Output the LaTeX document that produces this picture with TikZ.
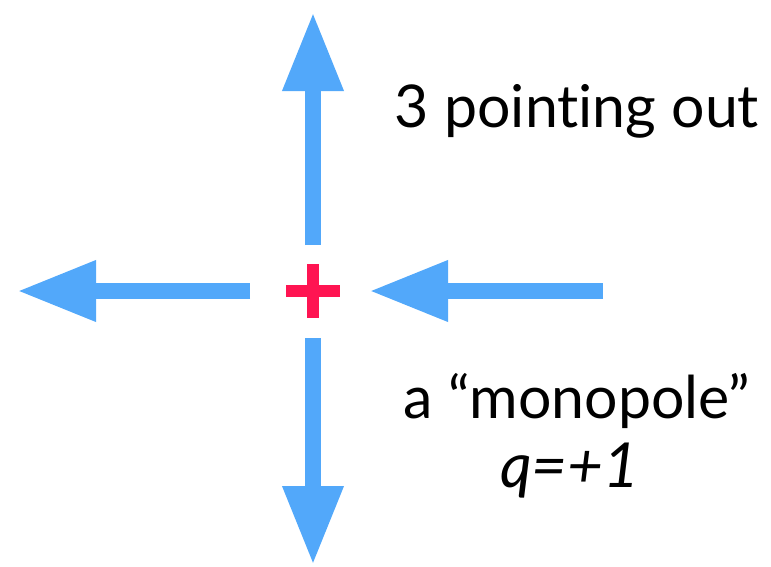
\documentclass[tikz,border=0pt]{standalone}
\usepackage{fontspec}
\setmainfont[Ligatures=NoCommon]{Lato}
\usetikzlibrary{arrows.meta,positioning,calc}

\definecolor{fieldblue}{RGB}{82,168,250}
\definecolor{chargered}{RGB}{255,20,82}

\tikzset{
    fieldline/.style={draw=fieldblue,line width=16pt,
        -{Triangle[width=57pt,length=79pt]}},
    label/.style={anchor=base,font=\fontsize{59}{62}\selectfont},
}

\begin{document}
\begin{tikzpicture}[x=1pt,y=-1pt]
    \useasboundingbox (0,0) rectangle (771,566);

    % the charge in the middle
    \coordinate (charge) at (313,291);
    \draw[chargered,line width=12pt] ($(charge)+(-27,0)$) -- ($(charge)+(27,0)$)
        ($(charge)+(0,-27)$) -- ($(charge)+(0,27)$);

    % ends of the field lines
    \foreach \name/\x/\y in {upS/313/245, upT/313/12, leftS/250/291, leftT/17/291,
                             rightS/603/291, rightT/369/291, downS/313/338, downT/313/565} {
        \coordinate (\name) at (\x,\y);
    }

    \foreach \a/\b in {upS/upT, leftS/leftT, rightS/rightT, downS/downT} {
        \draw[fieldline] (\a) -- (\b);
    }

    \node[label] (out) at (577,127) {3 pointing out};
    \node[label] (mono) at (577,418) {a “monopole”};
    \node[label,font=\fontsize{62}{64}\selectfont\itshape] (q) at (570,487) {q=+1};
\end{tikzpicture}
\end{document}
